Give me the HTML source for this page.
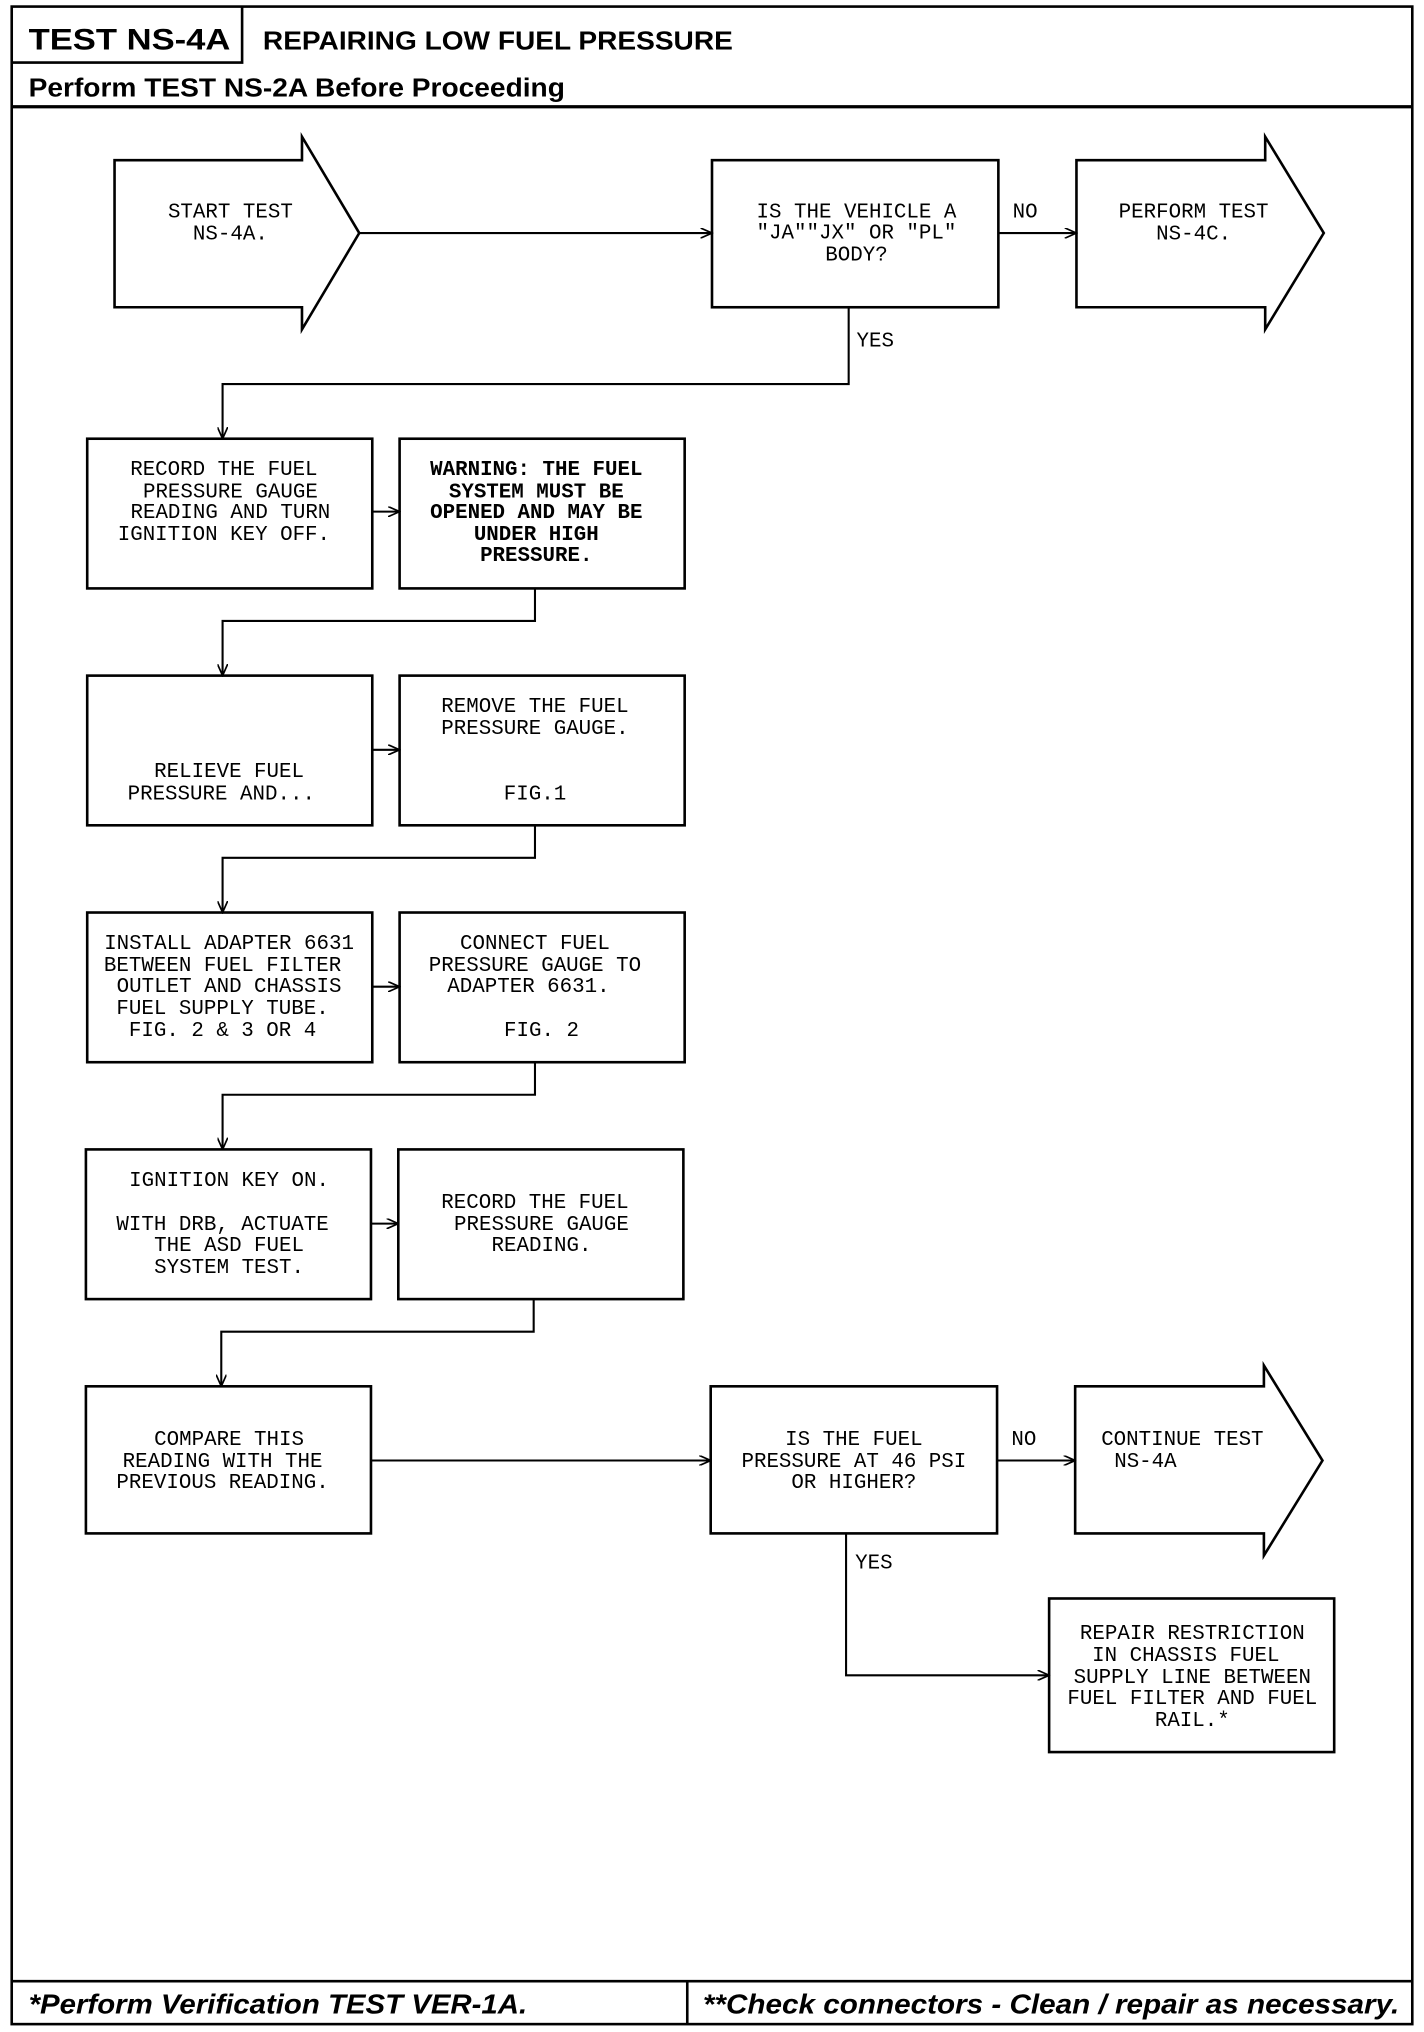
<!DOCTYPE html>
<html><head><meta charset="utf-8"><style>
html,body{margin:0;padding:0;background:#fff;}
svg{display:block;}
.t{font-family:"Liberation Mono",monospace;font-size:16px;fill:#000;text-anchor:middle;}
.tl{font-family:"Liberation Mono",monospace;font-size:16px;fill:#000;}
.b{font-family:"Liberation Mono",monospace;font-size:16px;font-weight:bold;fill:#000;text-anchor:middle;}
.h{font-family:"Liberation Sans",sans-serif;font-weight:bold;fill:#000;}
.f{font-family:"Liberation Sans",sans-serif;font-weight:bold;font-style:italic;font-size:21px;fill:#000;}
</style></head><body>
<svg width="1424" height="2032" viewBox="0 0 1094 1561" xmlns="http://www.w3.org/2000/svg">
<defs><marker id="a" markerWidth="10" markerHeight="8" refX="9" refY="4" orient="auto" markerUnits="userSpaceOnUse"><path d="M0,0 L9,4 L0,8" fill="none" stroke="#000" stroke-width="1.3"/></marker></defs>
<g fill="none" stroke="#000" stroke-width="2">
<rect x="9" y="5" width="1076" height="1550"/>
<path d="M186,5 V48 H9"/>
<path d="M9,82 H1085" stroke-width="2.5"/>
<path d="M9,1522 H1085 M528,1522 V1555"/>
<polygon points="88,123 232,123 232,105 276,179 232,253 232,236 88,236"/>
<rect x="547" y="123" width="220" height="113"/>
<polygon points="827,123 972,123 972,105 1017,179 972,253 972,236 827,236"/>
<rect x="67" y="337" width="219" height="115"/><rect x="307" y="337" width="219" height="115"/>
<rect x="67" y="519" width="219" height="115"/><rect x="307" y="519" width="219" height="115"/>
<rect x="67" y="701" width="219" height="115"/><rect x="307" y="701" width="219" height="115"/>
<rect x="66" y="883" width="219" height="115"/><rect x="306" y="883" width="219" height="115"/>
<rect x="66" y="1065" width="219" height="113"/>
<rect x="546" y="1065" width="220" height="113"/>
<polygon points="826,1065 971,1065 971,1049 1016,1122 971,1195 971,1178 826,1178"/>
<rect x="806" y="1228" width="219" height="118"/>
</g>
<g fill="none" stroke="#000" stroke-width="1.6" marker-end="url(#a)">
<path d="M276,179 H547"/>
<path d="M767,179 H827"/>
<path d="M652,236 V295 H171 V337"/>
<path d="M286,393 H307"/>
<path d="M411,452 V477 H171 V519"/>
<path d="M286,576 H307"/>
<path d="M411,634 V659 H171 V701"/>
<path d="M286,758 H307"/>
<path d="M411,816 V841 H171 V883"/>
<path d="M285,940 H306"/>
<path d="M410,998 V1023 H170 V1065"/>
<path d="M285,1122 H546"/>
<path d="M766,1122 H826"/>
<path d="M650,1178 V1287 H806"/>
</g>
<text class="h" x="22" y="38" font-size="23" textLength="155" lengthAdjust="spacingAndGlyphs">TEST NS-4A</text>
<text class="h" x="202" y="38" font-size="20" textLength="361" lengthAdjust="spacingAndGlyphs">REPAIRING LOW FUEL PRESSURE</text>
<text class="h" x="22" y="74" font-size="20" textLength="412" lengthAdjust="spacingAndGlyphs">Perform TEST NS-2A Before Proceeding</text>
<text class="f" x="22" y="1547" textLength="383" lengthAdjust="spacingAndGlyphs">*Perform Verification TEST VER-1A.</text>
<text class="f" x="540" y="1547" textLength="535" lengthAdjust="spacingAndGlyphs">**Check connectors - Clean / repair as necessary.</text>

<text class="t" x="177" y="167">START TEST</text><text class="t" x="177" y="184">NS-4A.</text>
<text class="t" x="658" y="167">IS THE VEHICLE A</text><text class="t" x="658" y="183">"JA""JX" OR "PL"</text><text class="t" x="658" y="200">BODY?</text>
<text class="tl" x="778" y="167">NO</text>
<text class="t" x="917" y="167">PERFORM TEST</text><text class="t" x="917" y="184">NS-4C.</text>
<text class="tl" x="658" y="266">YES</text>

<text class="t" x="172" y="365">RECORD THE FUEL</text><text class="t" x="177" y="382">PRESSURE GAUGE</text><text class="t" x="177" y="398">READING AND TURN</text><text class="t" x="172" y="415">IGNITION KEY OFF.</text>
<text class="b" x="412" y="365">WARNING: THE FUEL</text><text class="b" x="412" y="382">SYSTEM MUST BE</text><text class="b" x="412" y="398">OPENED AND MAY BE</text><text class="b" x="412" y="415">UNDER HIGH</text><text class="b" x="412" y="431">PRESSURE.</text>

<text class="t" x="176" y="597">RELIEVE FUEL</text><text class="t" x="170" y="614">PRESSURE AND...</text>
<text class="t" x="411" y="547">REMOVE THE FUEL</text><text class="t" x="411" y="564">PRESSURE GAUGE.</text><text class="t" x="411" y="614">FIG.1</text>

<text class="t" x="176" y="729">INSTALL ADAPTER 6631</text><text class="t" x="171" y="746">BETWEEN FUEL FILTER</text><text class="t" x="176" y="762">OUTLET AND CHASSIS</text><text class="t" x="171" y="779">FUEL SUPPLY TUBE.</text><text class="t" x="171" y="796">FIG. 2 &amp; 3 OR 4</text>
<text class="t" x="411" y="729">CONNECT FUEL</text><text class="t" x="411" y="746">PRESSURE GAUGE TO</text><text class="t" x="406" y="762">ADAPTER 6631.</text><text class="t" x="416" y="796">FIG. 2</text>

<text class="t" x="176" y="911">IGNITION KEY ON.</text><text class="t" x="171" y="945">WITH DRB, ACTUATE</text><text class="t" x="176" y="961">THE ASD FUEL</text><text class="t" x="176" y="978">SYSTEM TEST.</text>
<text class="t" x="411" y="928">RECORD THE FUEL</text><text class="t" x="416" y="945">PRESSURE GAUGE</text><text class="t" x="416" y="961">READING.</text>

<text class="t" x="176" y="1110">COMPARE THIS</text><text class="t" x="171" y="1127">READING WITH THE</text><text class="t" x="171" y="1143">PREVIOUS READING.</text>
<text class="t" x="656" y="1110">IS THE FUEL</text><text class="t" x="656" y="1127">PRESSURE AT 46 PSI</text><text class="t" x="656" y="1143">OR HIGHER?</text>
<text class="tl" x="777" y="1110">NO</text>
<text class="tl" x="846" y="1110">CONTINUE TEST</text><text class="tl" x="856" y="1127">NS-4A</text>
<text class="tl" x="657" y="1205">YES</text>
<text class="t" x="916" y="1259">REPAIR RESTRICTION</text><text class="t" x="911" y="1276">IN CHASSIS FUEL</text><text class="t" x="916" y="1293">SUPPLY LINE BETWEEN</text><text class="t" x="916" y="1309">FUEL FILTER AND FUEL</text><text class="t" x="916" y="1326">RAIL.*</text>
</svg>
</body></html>
